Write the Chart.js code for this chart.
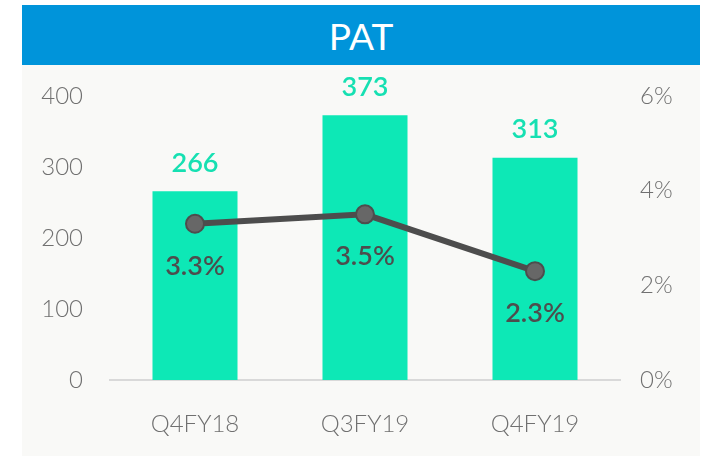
<!DOCTYPE html>
<html>
<head>
<meta charset="utf-8">
<script src="https://cdn.jsdelivr.net/npm/chart.js@4.4.1/dist/chart.umd.min.js"></script>
<style>
  body { margin: 0; background: #ffffff; width: 712px; height: 456px; overflow: hidden; }
  #panel { position: absolute; left: 22px; top: 5px; width: 678px; height: 451px; background: #f9f9f7; }
  #title { height: 60px; background: #0094da; color: #fff; font-family: Lato, "Open Sans", sans-serif;
           font-size: 37px; line-height: 62px; text-align: center; }
  #wrap { position: relative; width: 678px; height: 391px; }
</style>
</head>
<body>
<div id="panel">
  <div id="title">PAT</div>
  <div id="wrap"><canvas id="chart"></canvas></div>
</div>
<script>
// quarters and values
const quarters = ["Q4FY18", "Q3FY19", "Q4FY19"];
const patValues = [266, 373, 313];
const patMargin = [3.3, 3.5, 2.3];

const barColor = "#0de8b6";
const lineColor = "#4d4d4d";
const tickFont = { family: "Lato, 'Open Sans', sans-serif", size: 24, weight: "300" };

// draw value labels on bars and line points
const valueLabels = {
    id: "valueLabels",
    afterDatasetsDraw(chart) {
        const ctx = chart.ctx;
        ctx.save();
        ctx.textAlign = "center";
        ctx.textBaseline = "middle";
        chart.getDatasetMeta(1).data.forEach((bar, i) => {
            ctx.fillStyle = "#16e0b2";
            ctx.font = "600 27px Lato, 'Open Sans', sans-serif";
            ctx.fillText(patValues[i], bar.x, bar.y - 28);
        });
        chart.getDatasetMeta(0).data.forEach((pt, i) => {
            ctx.fillStyle = lineColor;
            ctx.font = "600 27px Lato, 'Open Sans', sans-serif";
            ctx.fillText(patMargin[i].toFixed(1) + "%", pt.x, pt.y + 42);
        });
        ctx.restore();
    }
};

// fixed axis size, no extra label padding
const fixWidth = (w) => (s) => { s.width = w; s.paddingTop = 0; s.paddingBottom = 0; };

const myChart = new Chart(document.getElementById("chart"), {
    type: "bar",
    plugins: [valueLabels],
    data: {
        labels: quarters,
        datasets: [
            {
                type: "line",
                data: patMargin,
                yAxisID: "y1",
                borderColor: lineColor,
                borderWidth: 6,
                pointRadius: 9,
                pointBackgroundColor: "#676767",
                pointBorderColor: lineColor,
                pointBorderWidth: 2,
                order: 0
            },
            {
                data: patValues,
                yAxisID: "y",
                backgroundColor: barColor,
                categoryPercentage: 1,
                barPercentage: 0.5,
                order: 1
            }
        ]
    },
    options: {
        responsive: true,
        maintainAspectRatio: false,
        animation: false,
        layout: { padding: { top: 31, bottom: 0, left: 0, right: 0 } },
        plugins: { legend: { display: false }, tooltip: { enabled: false } },
        scales: {
            x: {
                grid: { display: false, drawTicks: false },
                border: { display: true, color: "#d9d9d9", width: 2 },
                ticks: { color: "#707070", font: tickFont, padding: 30 },
                afterFit: (s) => { s.height = 76; s.paddingLeft = 0; s.paddingRight = 0; }
            },
            y: {
                position: "left",
                min: 0, max: 400,
                grid: { display: false, drawTicks: false },
                border: { display: false },
                ticks: { stepSize: 100, color: "#707070", font: tickFont, padding: 27 },
                afterFit: fixWidth(88)
            },
            y1: {
                position: "right",
                min: 0, max: 6,
                grid: { display: false, drawTicks: false },
                border: { display: false },
                ticks: { stepSize: 2, color: "#707070", font: tickFont, padding: 20,
                         callback: (v) => v + "%" },
                afterFit: fixWidth(80)
            }
        }
    }
});
</script>
</body>
</html>
